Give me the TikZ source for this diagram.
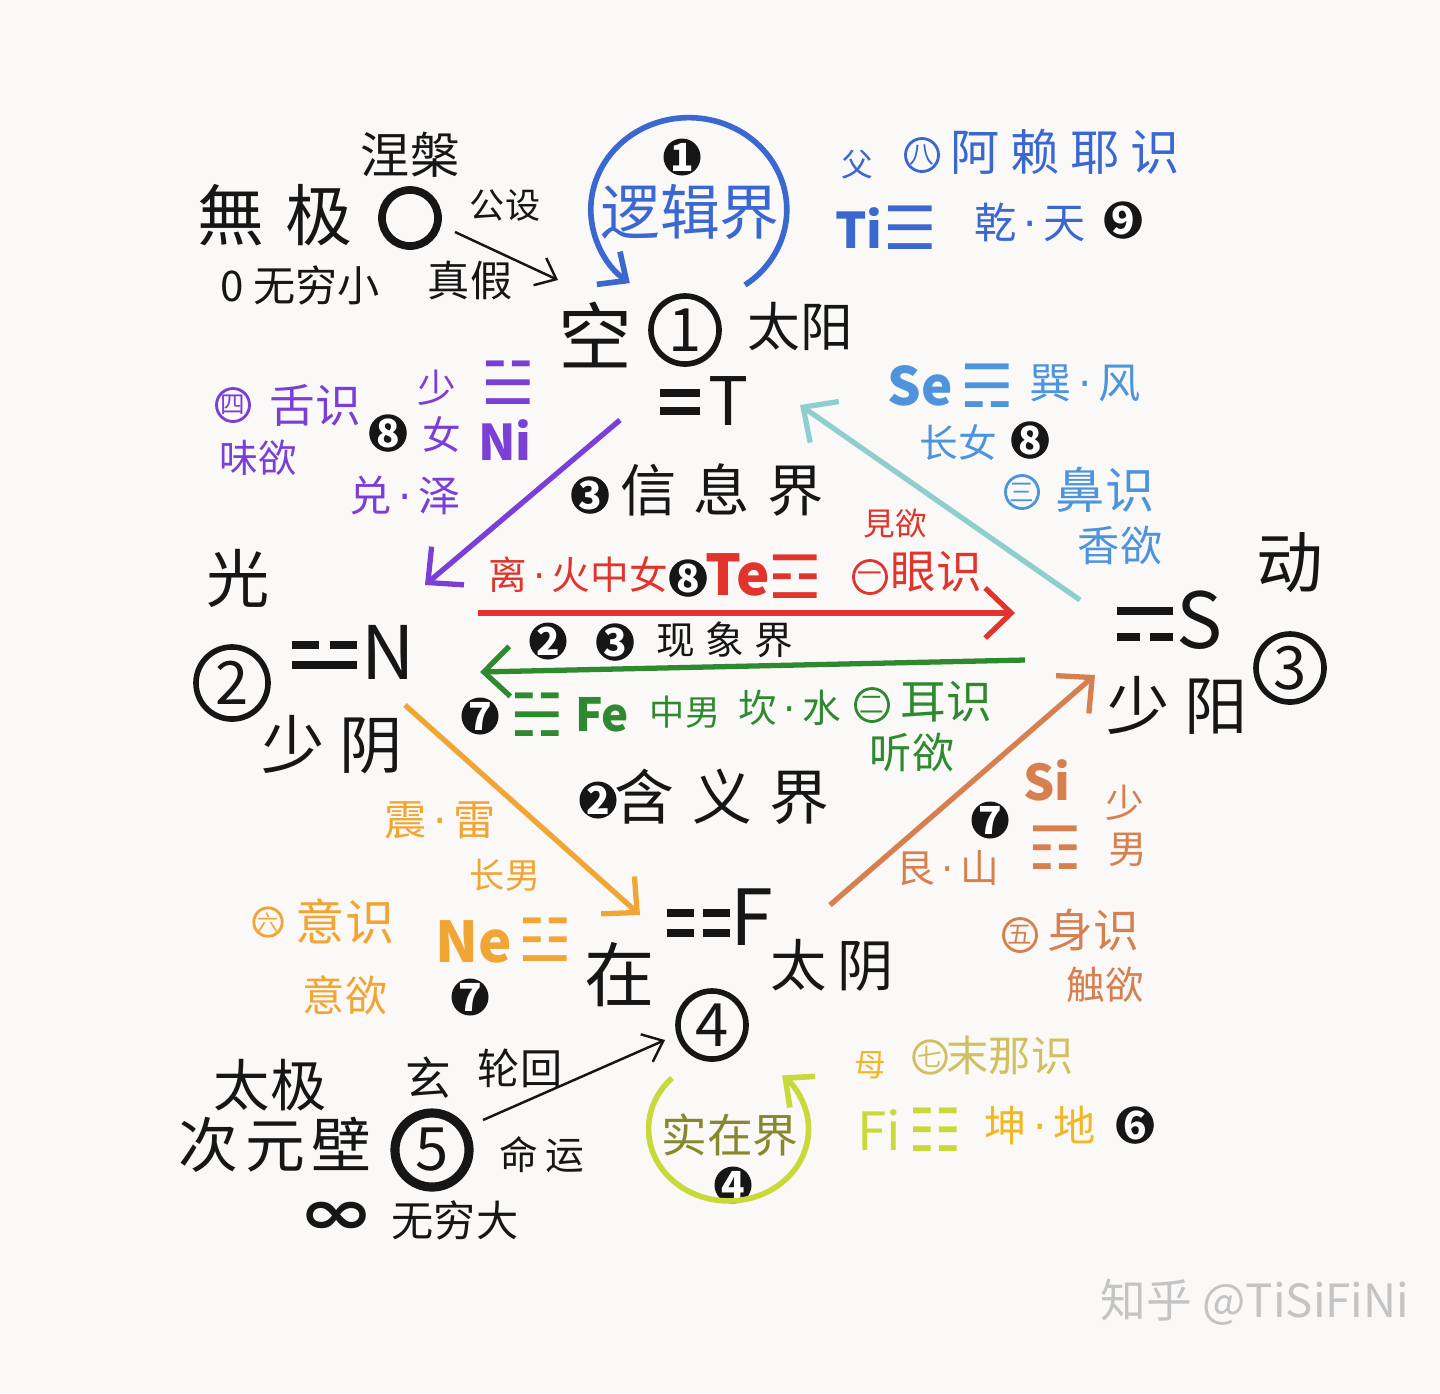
\documentclass[tikz,border=0pt]{standalone}
\usepackage{fontspec}
\setmainfont{Noto Sans CJK SC}
\newfontfamily\sym{DejaVu Sans}
\usetikzlibrary{arrows.meta}
\newcommand\fsz[1]{\fontsize{#1}{#1}\selectfont}
\newcommand\gdot{{\sym\,·\,}}
\definecolor{paper}{RGB}{250,249,247}
\definecolor{ink}{RGB}{22,22,22}
\definecolor{tiblue}{RGB}{58,104,208}
\definecolor{seblue}{RGB}{78,148,220}
\definecolor{sefoam}{RGB}{143,206,206}
\definecolor{nipurple}{RGB}{123,63,214}
\definecolor{tered}{RGB}{224,52,44}
\definecolor{fegreen}{RGB}{47,138,47}
\definecolor{neorange}{RGB}{240,165,53}
\definecolor{sibrown}{RGB}{214,128,80}
\definecolor{fiyellow}{RGB}{200,218,58}
\definecolor{fiolive}{RGB}{135,135,45}
\definecolor{manas}{RGB}{208,192,96}
\definecolor{figold}{RGB}{240,184,40}
\definecolor{wmgrey}{RGB}{196,196,196}

\begin{document}
\begin{tikzpicture}[x=0.01cm,y=-0.01cm,ink]
\tikzstyle{every node}+=[inner sep=0pt]
\tikzstyle{ring}=[draw,circle,line width=1.6pt,minimum size=0.68cm,font=\fsz{17}]
\tikzstyle{blob}=[circle,fill=ink,text=white,minimum size=0.37cm,font=\fsz{11}\bfseries]
\tikzstyle{sense}=[draw,circle,line width=0.8pt,minimum size=0.33cm,font=\fsz{7}]
\tikzstyle{gua}=[font=\sym\bfseries\fsz{17}]
\tikzstyle{yao}=[line width=2.2pt,ink]
\tikzstyle{hand}=[line width=1.5pt,-{Straight Barb[length=2.6mm,width=5mm]}]
\tikzstyle{pointer}=[line width=0.7pt,-{Straight Barb[length=1.8mm,width=3mm]}]
\useasboundingbox (0,0) rectangle (1440,1393);
\fill[paper] (0,0) rectangle (1440,1393);

% black frame: the four poles
\node (niepan) at (410,155) {\fsz{14}涅槃};
\node (wuji) at (275,215) {\fsz{19}無\hspace{6pt}极};
\node[draw,circle,line width=2.2pt,minimum size=0.56cm] (zero) at (410,218) {};
\node (gongshe) at (505,205) {\fsz{10}公设};
\node (wqx) at (300,285) {\fsz{12}0 无穷小};
\node (zhenjia) at (470,280) {\fsz{12}真假};
\node (kong) at (595,335) {\fsz{21}空};
\node[ring] (one) at (685,330) {1};
\node (taiyang) at (800,327) {\fsz{15}太阳};
\draw[yao] (660,393) -- (700,393) (660,411) -- (700,411);
\node (T) at (728,401) {\fsz{19}T};

\node (guang) at (238,578) {\fsz{18}光};
\node[ring,minimum size=0.72cm] (two) at (232,683) {2};
\draw[yao] (292,645) -- (319,645) (330,645) -- (357,645) (292,665) -- (357,665);
\node (N) at (388,652) {\fsz{21}N};
\node (shaoyin) at (332,745) {\fsz{18}少\hspace{4pt}阴};

\node (dong) at (1290,563) {\fsz{19}动};
\draw[yao] (1117,611) -- (1173,611) (1117,637) -- (1140,637) (1150,637) -- (1173,637);
\node (S) at (1200,620) {\fsz{22}S};
\node[ring] (three) at (1290,668) {3};
\node (shaoyang) at (1177,705) {\fsz{18}少\hspace{4pt}阳};

\draw[yao] (667,913) -- (694,913) (703,913) -- (730,913) (667,933) -- (694,933) (703,933) -- (730,933);
\node (F) at (752,917) {\fsz{22}F};
\node (zai) at (620,975) {\fsz{20}在};
\node (taiyin) at (832,965) {\fsz{16}太\hspace{3pt}阴};
\node[ring] (four) at (712,1025) {4};

\node (taiji) at (270,1085) {\fsz{16}太极};
\node (ciyuan) at (275,1145) {\fsz{17}次\hspace{2pt}元\hspace{2pt}壁};
\node (xuan) at (428,1078) {\fsz{13}玄};
\node (lunhui) at (520,1068) {\fsz{12}轮回};
\node[ring,line width=2.6pt,minimum size=0.74cm] (five) at (432,1150) {5};
\node (mingyun) at (542,1155) {\fsz{11}命\hspace{2pt}运};
\node (inf) at (337,1218) {\scalebox{1}[0.7]{\sym\fsz{26}\bfseries ∞}};
\node (wqd) at (455,1220) {\fsz{12}无穷大};

% the realms
\node[blob] (b3a) at (590,495) {3};
\node (xinxi) at (722,490) {\fsz{16}信\hspace{5pt}息\hspace{5pt}界};
\node[blob] (b2a) at (548,641) {2};
\node[blob] (b3b) at (615,642) {3};
\node (xianxiang) at (725,640) {\fsz{11}现\hspace{3pt}象\hspace{3pt}界};
\node[blob] (b2b) at (598,800) {2};
\node (hanyi) at (722,797) {\fsz{17}含\hspace{5pt}义\hspace{5pt}界};

% Ti
\node[blob] (b1) at (682,157) {1};
\node[tiblue] (luoji) at (690,212) {\fsz{17}逻辑界};
\node[tiblue] (fu) at (857,165) {\fsz{9}父};
\node[sense,tiblue] (s8) at (922,155) {八};
\node[tiblue] (alaiye) at (1065,152) {\fsz{14}阿\hspace{3pt}赖\hspace{3pt}耶\hspace{3pt}识};
\node[tiblue] (Ti) at (859,228) {\fsz{14}\bfseries Ti};
\node[tiblue,gua] (qian) at (910,228) {☰};
\node[tiblue] (qiantian) at (1030,222) {\fsz{12}乾\gdot 天};
\node[blob] (b9) at (1123,220) {9};
\draw[tiblue,line width=1.6pt,-{Straight Barb[length=2.2mm,width=4mm]}]
  (745,285) arc[start angle=55,end angle=-233,x radius=98,y radius=92];

% Se
\node[seblue] (Se) at (920,386) {\fsz{15}\bfseries Se};
\node[seblue,gua] (xun) at (987,386) {☴};
\node[seblue] (xunfeng) at (1085,383) {\fsz{12}巽\gdot 风};
\node[seblue] (changnv) at (958,443) {\fsz{11}长女};
\node[blob] (b8c) at (1030,440) {8};
\node[sense,seblue] (s3) at (1022,492) {三};
\node[seblue] (bishi) at (1105,490) {\fsz{14}鼻识};
\node[seblue] (xiangyu) at (1120,545) {\fsz{12}香欲};

% Ni
\node[sense,nipurple] (s4) at (233,405) {四};
\node[nipurple] (sheshi) at (315,405) {\fsz{13}舌识};
\node[nipurple] (weiyu) at (258,458) {\fsz{11}味欲};
\node[blob] (b8a) at (388,433) {8};
\node[nipurple] (shao) at (437,388) {\fsz{11}少};
\node[nipurple] (nv) at (442,435) {\fsz{11}女};
\node[nipurple] (duize) at (405,495) {\fsz{12}兑\gdot 泽};
\node[nipurple,gua] (dui) at (508,383) {☱};
\node[nipurple] (Ni) at (505,440) {\fsz{14}\bfseries Ni};

% Te
\node[tered] (lihuo) at (578,575) {\fsz{11}离\gdot 火中女};
\node[blob] (b8b) at (688,578) {8};
\node[tered] (Te) at (738,575) {\fsz{16}\bfseries Te};
\node[tered,gua] (li) at (795,577) {☲};
\node[tered] (jianyu) at (895,523) {\fsz{9}見欲};
\node[sense,tered] (s1) at (870,577) {一};
\node[tered] (yanshi) at (936,572) {\fsz{13}眼识};

% Fe
\node[blob] (b7a) at (480,716) {7};
\node[fegreen,gua] (kan) at (537,715) {☵};
\node[fegreen] (Fe) at (602,715) {\fsz{13}\bfseries Fe};
\node[fegreen] (zhongnan) at (685,712) {\fsz{10}中男};
\node[fegreen] (kanshui) at (790,708) {\fsz{11}坎\gdot 水};
\node[sense,fegreen] (s2) at (872,705) {二};
\node[fegreen] (ershi) at (946,702) {\fsz{13}耳识};
\node[fegreen] (tingyu) at (912,752) {\fsz{12}听欲};

% Ne
\node[neorange] (zhenlei) at (440,820) {\fsz{12}震\gdot 雷};
\node[neorange] (changnan) at (505,875) {\fsz{10}长男};
\node[sense,neorange,minimum size=0.27cm,font=\fsz{6}] (s6) at (268,922) {六};
\node[neorange] (yishi) at (345,922) {\fsz{14}意识};
\node[neorange] (yiyu) at (345,995) {\fsz{12}意欲};
\node[neorange] (Ne) at (474,942) {\fsz{16}\bfseries Ne};
\node[neorange,gua] (zhen) at (545,940) {☳};
\node[blob] (b7b) at (470,997) {7};

% Si
\node[sibrown] (Si) at (1047,780) {\fsz{14}\bfseries Si};
\node[blob] (b7c) at (990,820) {7};
\node[sibrown,gua] (gen) at (1055,848) {☶};
\node[sibrown] (shao2) at (1125,803) {\fsz{11}少};
\node[sibrown] (nan2) at (1128,850) {\fsz{11}男};
\node[sibrown] (genshan) at (948,868) {\fsz{11}艮\gdot 山};
\node[sense,sibrown] (s5) at (1020,935) {五};
\node[sibrown] (shenshi) at (1093,930) {\fsz{13}身识};
\node[sibrown] (chuyu) at (1105,985) {\fsz{11}触欲};

% Fi
\node[figold] (mu) at (870,1065) {\fsz{9}母};
\node[sense,manas,minimum size=0.3cm] (s7) at (930,1057) {七};
\node[manas] (mona) at (1010,1055) {\fsz{12}末那识};
\node[fiyellow] (Fi) at (879,1130) {\fsz{15}Fi};
\node[fiyellow,gua] (kun) at (935,1130) {☷};
\node[figold] (kundi) at (1040,1125) {\fsz{12}坤\gdot 地};
\node[blob] (b6) at (1135,1125) {6};
\node[fiolive] (shizai) at (730,1135) {\fsz{13}实在界};
\node[blob] (b4) at (733,1185) {4};
\draw[fiyellow,line width=1.6pt,-{Straight Barb[length=2.2mm,width=4mm]}]
  (672,1078) arc[start angle=-135,end angle=-408,x radius=80,y radius=72];

\node[wmgrey] (zhihu) at (1255,1302) {\fsz{13}知乎 @TiSiFiNi};

% connectors
\coordinate (zeroout) at (455,232);
\coordinate (kongin) at (558,280);
\draw[pointer] (zeroout) -- (kongin);
\coordinate (fiveout) at (483,1120);
\coordinate (fourin) at (665,1040);
\draw[pointer] (fiveout) -- (fourin);
\coordinate (Tsw) at (620,420);
\coordinate (Nne) at (425,585);
\draw[hand,nipurple] (Tsw) -- (Nne);
\coordinate (Snw) at (1080,600);
\coordinate (Tse) at (800,405);
\draw[hand,sefoam] (Snw) -- (Tse);
\coordinate (Nout) at (478,613);
\coordinate (Sin) at (1015,613);
\draw[hand,tered] (Nout) -- (Sin);
\coordinate (Sout) at (1025,660);
\coordinate (Nin) at (480,672);
\draw[hand,fegreen] (Sout) -- (Nin);
\coordinate (Nse) at (405,705);
\coordinate (Fnw) at (640,915);
\draw[hand,neorange] (Nse) -- (Fnw);
\coordinate (Fne) at (830,905);
\coordinate (Ssw) at (1095,675);
\draw[hand,sibrown] (Fne) -- (Ssw);
\end{tikzpicture}
\end{document}
